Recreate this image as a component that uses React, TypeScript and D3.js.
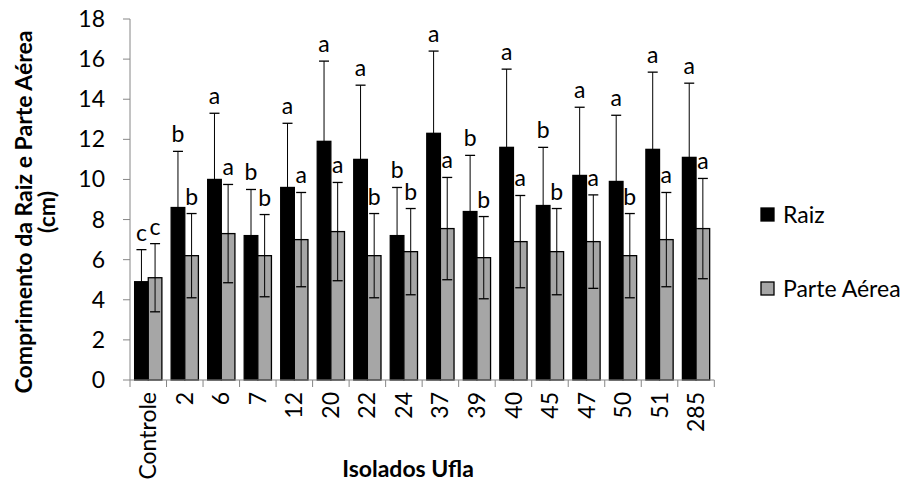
import React from 'react';
import * as d3 from 'd3';

// dados
const categories = ['Controle', '2', '6', '7', '12', '20', '22', '24', '37', '39', '40', '45', '47', '50', '51', '285'];
const raiz = [4.9, 8.6, 10.0, 7.2, 9.6, 11.9, 11.0, 7.2, 12.3, 8.4, 11.6, 8.7, 10.2, 9.9, 11.5, 11.1];
const raizErr = [1.6, 2.8, 3.3, 2.3, 3.2, 4.0, 3.7, 2.4, 4.1, 2.8, 3.9, 2.9, 3.4, 3.3, 3.85, 3.7];
const parte = [5.1, 6.2, 7.3, 6.2, 7.0, 7.4, 6.2, 6.4, 7.55, 6.1, 6.9, 6.4, 6.9, 6.2, 7.0, 7.55];
const parteErr = [1.7, 2.1, 2.45, 2.05, 2.35, 2.45, 2.1, 2.15, 2.55, 2.05, 2.3, 2.15, 2.33, 2.1, 2.35, 2.5];
const raizLetters = ['c', 'b', 'a', 'b', 'a', 'a', 'a', 'b', 'a', 'b', 'a', 'b', 'a', 'a', 'a', 'a'];
const parteLetters = ['c', 'b', 'a', 'b', 'a', 'a', 'b', 'b', 'a', 'b', 'a', 'b', 'a', 'b', 'a', 'a'];
const yTicks = [0, 2, 4, 6, 8, 10, 12, 14, 16, 18];
const seriesNames = ['Raiz', 'Parte Aérea'];

const W = 915, H = 490;
const margin = { top: 19, right: 200.7, bottom: 110, left: 130 };
const FONT = 'Lato, sans-serif';
const fs = 23;

export default function App() {
    const x = d3.scaleBand().domain(categories).range([margin.left, W - margin.right]);
    const sub = d3.scaleBand().domain(['raiz', 'parte']).range([0, x.bandwidth()]).paddingInner(0).paddingOuter(0.34);
    const y = d3.scaleLinear().domain([0, 18]).range([H - margin.bottom, margin.top]);
    const y0 = y(0);

    const series = [
        { key: 'raiz', vals: raiz, err: raizErr, letters: raizLetters, fill: '#000000' },
        { key: 'parte', vals: parte, err: parteErr, letters: parteLetters, fill: '#a6a6a6' },
    ];

    return (
        <svg width={W} height={H} style={{ position: 'absolute', left: 0, top: 0, background: '#fff' }} fontFamily={FONT}>
            {/* eixo y */}
            <line x1={margin.left} x2={margin.left} y1={y(18)} y2={y0} stroke="#868686" strokeWidth={1} />
            {yTicks.map((t) => (
                <g key={t}>
                    <line x1={margin.left - 7} x2={margin.left} y1={y(t)} y2={y(t)} stroke="#868686" />
                    <text x={105} y={y(t)} dy="0.35em" textAnchor="end" fontSize={fs} fill="#000">
                        {t}
                    </text>
                </g>
            ))}

            {/* barras */}
            {series.map((s) =>
                categories.map((c, i) => {
                    const bx = x(c) + sub(s.key);
                    const bw = sub.bandwidth();
                    const cx = bx + bw / 2;
                    const top = y(s.vals[i] + s.err[i]);
                    const bot = y(s.vals[i] - s.err[i]);
                    return (
                        <g key={s.key + c}>
                            <rect x={bx} y={y(s.vals[i])} width={bw} height={y0 - y(s.vals[i])} fill={s.fill} stroke="#000" strokeWidth={1.3} />
                            <line x1={cx} x2={cx} y1={top} y2={bot} stroke="#000" strokeWidth={1} />
                            <line x1={cx - 5} x2={cx + 5} y1={top} y2={top} stroke="#000" strokeWidth={1.3} />
                            <line x1={cx - 5} x2={cx + 5} y1={bot} y2={bot} stroke="#000" strokeWidth={1.3} />
                            <text x={cx} y={top - 9} textAnchor="middle" fontSize={fs} fill="#000">
                                {s.letters[i]}
                            </text>
                        </g>
                    );
                })
            )}

            {/* eixo x */}
            <line x1={margin.left} x2={W - margin.right} y1={y0} y2={y0} stroke="#868686" />
            {categories.map((c) => (
                <line key={'t' + c} x1={x(c)} x2={x(c)} y1={y0} y2={y0 + 7} stroke="#868686" />
            ))}
            <line x1={W - margin.right} x2={W - margin.right} y1={y0} y2={y0 + 7} stroke="#868686" />
            {categories.map((c) => {
                const cx = x(c) + x.bandwidth() / 2;
                return (
                    <text key={'l' + c} transform={`translate(${cx},${y0 + 12}) rotate(-90)`} dy="0.35em" textAnchor="end" fontSize={fs} fill="#000">
                        {c}
                    </text>
                );
            })}

            {/* titulos */}
            <text x={408} y={477} textAnchor="middle" fontSize={fs} fontWeight="bold" fill="#000">
                Isolados Ufla
            </text>
            <text transform="translate(24,212) rotate(-90)" dy="0.35em" textAnchor="middle" fontSize={fs} fontWeight="bold" fill="#000">
                Comprimento da Raiz e Parte Aérea
            </text>
            <text transform="translate(47,212) rotate(-90)" dy="0.35em" textAnchor="middle" fontSize={fs} fontWeight="bold" fill="#000">
                (cm)
            </text>

            {/* legenda */}
            {seriesNames.map((n, i) => (
                <g key={n} transform={`translate(761,${215 + i * 74})`}>
                    <rect x={0} y={-7} width={13} height={13} fill={series[i].fill} stroke="#000" strokeWidth={1.3} />
                    <text x={22} y={0} dy="0.35em" fontSize={fs} fill="#000">
                        {n}
                    </text>
                </g>
            ))}
        </svg>
    );
}
